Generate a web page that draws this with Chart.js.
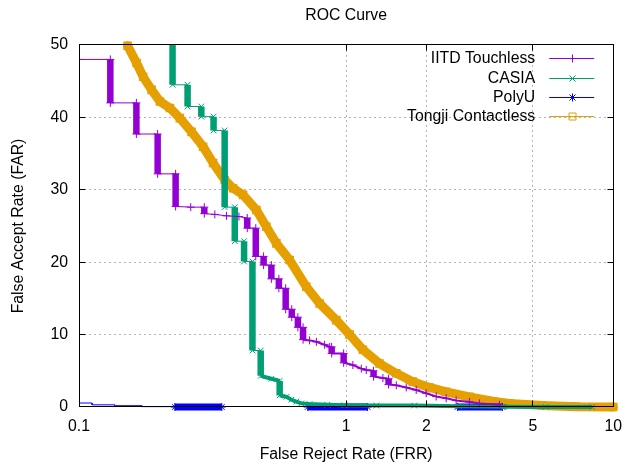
<!DOCTYPE html>
<html><head><meta charset="utf-8">
<script src="https://cdn.jsdelivr.net/npm/chart.js@4.4.1/dist/chart.umd.min.js"></script>
<style>html,body{margin:0;padding:0;background:#fff}canvas{display:block}</style>
</head><body>
<canvas id="c" width="622" height="467"></canvas>
<script>
// ---- data ----
const seriesLabels = ['IITD Touchless', 'CASIA', 'PolyU', 'Tongji Contactless'];
const xTickValues = [0.1, 1, 2, 5, 10];
const yTickValues = [0, 10, 20, 30, 40, 50];

const iitdFRR = [0.1, 0.131, 0.131, 0.164, 0.164, 0.197, 0.197, 0.230, 0.230, 0.262, 0.2945, 0.2945, 0.3225, 0.3565, 0.397, 0.4265, 0.4265, 0.459, 0.459, 0.491, 0.491, 0.525, 0.525, 0.560, 0.560, 0.594, 0.594, 0.626, 0.626, 0.660, 0.660, 0.690, 0.690, 0.730, 0.774, 0.831, 0.868, 0.883, 0.883, 0.979, 0.979, 1.06, 1.14, 1.19, 1.267, 1.267, 1.373, 1.442, 1.442, 1.541, 1.679, 1.83, 1.994, 2.174, 2.369, 2.582, 2.895, 3.155, 3.75];
const iitdFAR = [48, 48, 42, 42, 37.7, 37.7, 32.2, 32.2, 27.7, 27.6, 27.6, 26.7, 26.6, 26.4, 26.3, 26.1, 24.7, 24.7, 20.8, 20.8, 19.6, 19.6, 17.7, 17.7, 16.4, 16.4, 13.5, 13.5, 12.4, 12.4, 11.0, 11.0, 9.3, 9.2, 9.0, 8.6, 8.3, 8.3, 7.4, 7.4, 6.1, 5.8, 5.3, 5.1, 5.0, 4.2, 4.0, 3.9, 3.1, 3.0, 2.7, 2.35, 1.9, 1.45, 1.2, 0.9, 0.7, 0.5, 0.3];

const casiaFRR = [0.224, 0.224, 0.255, 0.255, 0.287, 0.287, 0.319, 0.319, 0.351, 0.351, 0.383, 0.383, 0.415, 0.415, 0.446, 0.446, 0.479, 0.479, 0.525, 0.564, 0.564, 0.598, 0.624, 0.651, 0.68, 0.73, 0.85, 0.987, 1.3, 1.8, 2.65, 3.9, 5.6, 8.35];
const casiaFAR = [55, 44.5, 44.5, 41.5, 41.5, 40.1, 40.1, 38.2, 38.2, 27.6, 27.6, 22.9, 22.9, 20.1, 20.1, 7.8, 7.8, 4.3, 3.9, 3.6, 1.6, 1.4, 1.0, 0.75, 0.5, 0.4, 0.3, 0.25, 0.2, 0.2, 0.1, 0.03, 0, 0];

const polyuFRR = [0.1, 0.112, 0.112, 0.136, 0.136, 0.172, 0.172, 0.2285, 0.2285, 0.3425, 0.5, 0.718, 1.203, 1.8, 2.611, 3.846];
const polyuFAR = [0.55, 0.55, 0.3, 0.3, 0.18, 0.18, 0.05, 0.05, 0, 0, null, 0, 0, null, 0, 0];

const tongjiFRR = [0.152, 0.1643, 0.1739, 0.187, 0.2009, 0.2189, 0.2385, 0.2638, 0.2915, 0.3177, 0.3513, 0.3774, 0.4114, 0.4615, 0.503, 0.5483, 0.6149, 0.7099, 0.7961, 0.9191, 1.031, 1.156, 1.334, 1.541, 1.777, 2.051, 2.369, 2.895, 3.538, 4.087, 5.441, 7.255, 10];
const tongjiFAR = [49.9, 47.5, 45.6, 43.8, 42.2, 41.3, 39.9, 38.0, 35.95, 33.7, 31.35, 30.2, 29.3, 27.2, 24.9, 22.6, 20.3, 16.6, 14.3, 12.0, 10.0, 7.9, 6.0, 4.65, 3.5, 2.7, 2.1, 1.4, 0.8, 0.5, 0.2, 0.05, 0];

// ---- styling ----
const FONT = "'Liberation Sans', Arial, sans-serif";
const FS = 15.8;
const colors = ['#9400D3', '#009E73', '#0000FF', '#E69F00'];
const markerStyles = ['cross', 'crossRot', 'star', 'rect'];

function pts(xs, ys) { return xs.map((x, i) => ({ x: x, y: ys[i] })); }

const vertical = (ctx) => ctx.p0.parsed.x === ctx.p1.parsed.x;

function drawMarker(ctx, style, cx, cy, r) {
  ctx.beginPath();
  if (style === 'cross' || style === 'star') {
    ctx.moveTo(cx - r, cy); ctx.lineTo(cx + r, cy);
    ctx.moveTo(cx, cy - r); ctx.lineTo(cx, cy + r);
  }
  if (style === 'crossRot' || style === 'star') {
    const d = r * 0.75;
    ctx.moveTo(cx - d, cy - d); ctx.lineTo(cx + d, cy + d);
    ctx.moveTo(cx - d, cy + d); ctx.lineTo(cx + d, cy - d);
  }
  if (style === 'rect') {
    ctx.rect(cx - 3.5, cy - 3.5, 7, 7);
  }
  ctx.stroke();
}

const framePlugin = {
  id: 'gpFrame',
  afterDatasetsDraw(chart) {
    const { ctx, chartArea: a, scales } = chart;
    const px = v => Math.floor(v) + 0.5;
    ctx.save();
    ctx.strokeStyle = '#000';
    ctx.lineWidth = 1;
    const L = px(a.left), R = px(a.right), T = px(a.top), B = px(a.bottom);
    ctx.strokeRect(L, T, R - L, B - T);
    ctx.beginPath();
    xTickValues.forEach(v => {
      const x = px(scales.x.getPixelForValue(v));
      ctx.moveTo(x, B); ctx.lineTo(x, B - 6);
      ctx.moveTo(x, T); ctx.lineTo(x, T + 6);
    });
    yTickValues.forEach(v => {
      const y = px(scales.y.getPixelForValue(v));
      ctx.moveTo(L, y); ctx.lineTo(L + 6, y);
      ctx.moveTo(R, y); ctx.lineTo(R - 6, y);
    });
    ctx.stroke();
    ctx.restore();
  }
};

const legendPlugin = {
  id: 'gpLegend',
  afterDraw(chart) {
    const { ctx, chartArea: a } = chart;
    ctx.save();
    ctx.font = FS + 'px ' + FONT;
    ctx.textAlign = 'right';
    ctx.textBaseline = 'middle';
    chart.data.datasets.forEach((ds, i) => {
      const yy = Math.round(a.top + 13.5 + i * 19.3) + 0.5;
      ctx.fillStyle = '#000';
      ctx.fillText(ds.label, a.right - 78, yy);
      ctx.strokeStyle = ds.borderColor;
      ctx.lineWidth = 1;
      ctx.beginPath();
      ctx.moveTo(a.right - 64, yy); ctx.lineTo(a.right - 19, yy);
      ctx.stroke();
      drawMarker(ctx, markerStyles[i], Math.round(a.right - 41.5) + 0.5, yy, 4);
    });
    ctx.restore();
  }
};

const datasets = [
  {
    label: seriesLabels[0],
    data: pts(iitdFRR, iitdFAR),
    borderColor: colors[0], backgroundColor: colors[0],
    borderWidth: 1,
    pointStyle: 'cross', pointRadius: 4, pointBorderWidth: 1, pointBorderColor: colors[0],
    segment: { borderWidth: ctx => vertical(ctx) ? 6.5 : ((ctx.p0.parsed.y < 9.5 && ctx.p1.parsed.y < 9.5) ? 2 : undefined) },
    clip: { left: 0, top: 0, right: 8, bottom: 6 }
  },
  {
    label: seriesLabels[1],
    data: pts(casiaFRR, casiaFAR),
    borderColor: colors[1], backgroundColor: colors[1],
    borderWidth: 1,
    pointStyle: 'crossRot', pointRadius: 4, pointBorderWidth: 1, pointBorderColor: colors[1],
    segment: { borderWidth: ctx => vertical(ctx) ? 6.5 : ((ctx.p0.parsed.y <= 4.5 && ctx.p1.parsed.y <= 4.5) ? 4 : undefined) },
    clip: { left: 0, top: 0, right: 8, bottom: 6 }
  },
  {
    label: seriesLabels[2],
    data: pts(polyuFRR, polyuFAR),
    borderColor: colors[2], backgroundColor: colors[2],
    borderWidth: 1,
    spanGaps: false,
    pointStyle: 'star', pointBorderWidth: 1, pointBorderColor: colors[2],
    pointRadius: ctx => (ctx.raw && ctx.raw.y === 0) ? 4 : 0,
    segment: { borderWidth: ctx => (ctx.p0.parsed.y === 0 && ctx.p1.parsed.y === 0) ? 7 : undefined },
    clip: { left: 0, top: 0, right: 8, bottom: 6 }
  },
  {
    label: seriesLabels[3],
    data: pts(tongjiFRR, tongjiFAR),
    borderColor: colors[3], backgroundColor: 'rgba(0,0,0,0)',
    borderWidth: 9, borderJoinStyle: 'round', borderCapStyle: 'round',
    pointStyle: 'rect', pointRadius: 5, pointBorderWidth: 1.5, pointBorderColor: colors[3],
    pointBackgroundColor: 'rgba(0,0,0,0)',
    clip: { left: 0, top: 6, right: 8, bottom: 6 }
  }
];

new Chart(document.getElementById('c'), {
  type: 'line',
  data: { datasets: datasets },
  options: {
    responsive: false,
    animation: false,
    devicePixelRatio: 1,
    layout: { padding: { left: 0, right: 0, top: 0, bottom: 0 } },
    plugins: {
      legend: { display: false },
      tooltip: { enabled: false },
      title: {
        display: true, text: 'ROC Curve', color: '#000', fullSize: false,
        font: { family: FONT, size: FS, weight: 'normal' },
        padding: { top: 6, bottom: 20 }
      }
    },
    elements: { line: { tension: 0 } },
    scales: {
      x: {
        type: 'logarithmic', min: 0.1, max: 10,
        afterBuildTicks: s => { s.ticks = xTickValues.map(v => ({ value: v })); },
        afterFit: s => { s.height = 60; },
        ticks: {
          color: '#000', font: { family: FONT, size: FS }, padding: 0,
          autoSkip: false, maxRotation: 0,
          callback: v => String(v)
        },
        grid: { color: '#b4b4b4', lineWidth: 1, drawTicks: true, tickLength: 10, tickColor: 'rgba(0,0,0,0)' },
        border: { display: false, dash: [2, 3] },
        title: { display: true, text: 'False Reject Rate (FRR)', color: '#000', font: { family: FONT, size: FS }, padding: { top: 0, bottom: 3 } }
      },
      y: {
        type: 'linear', min: 0, max: 50,
        afterBuildTicks: s => { s.ticks = yTickValues.map(v => ({ value: v })); },
        afterFit: s => { s.width = 79; },
        ticks: { color: '#000', font: { family: FONT, size: FS }, padding: 11, callback: v => String(v) },
        grid: { color: '#b4b4b4', lineWidth: 1, drawTicks: false },
        border: { display: false, dash: [2, 3] },
        title: { display: true, text: 'False Accept Rate (FAR)', color: '#000', font: { family: FONT, size: FS }, padding: { top: 9, bottom: 0 } }
      }
    }
  },
  plugins: [framePlugin, legendPlugin]
});
</script>
</body></html>
